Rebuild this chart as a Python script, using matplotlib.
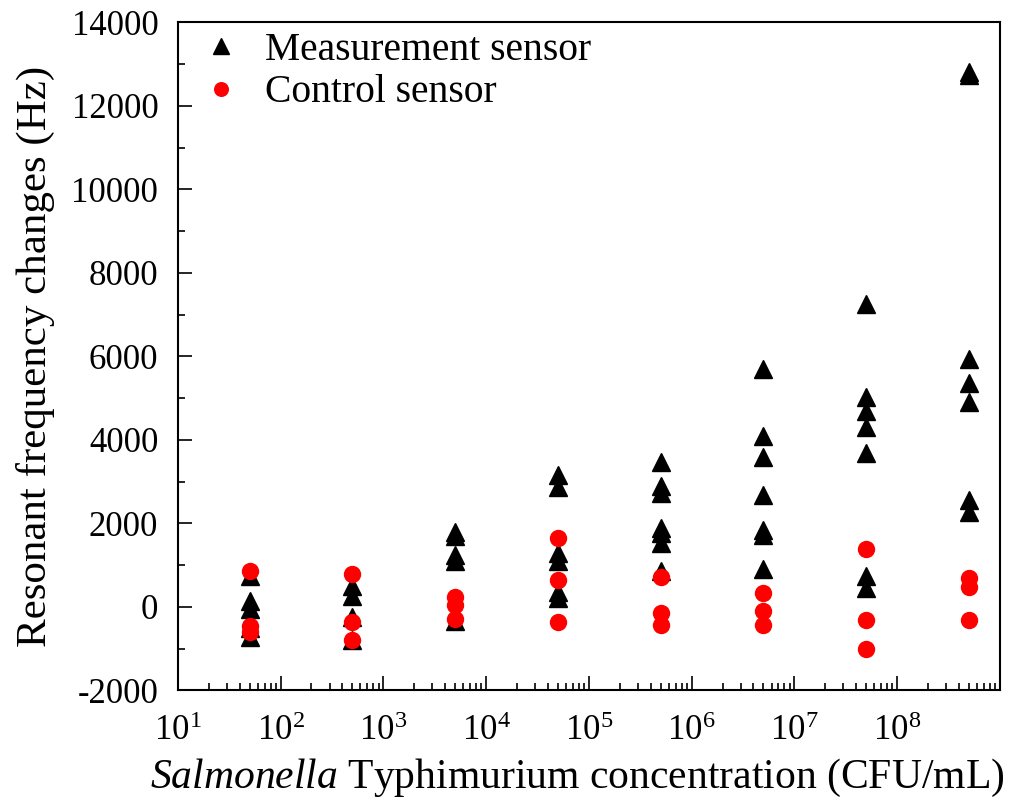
import numpy as np
import matplotlib
matplotlib.use('Agg')
import matplotlib.pyplot as plt
from matplotlib.ticker import LogLocator, MultipleLocator, NullFormatter

plt.rcParams['font.family'] = ['Liberation Serif', 'DejaVu Serif']
plt.rcParams['mathtext.fontset'] = 'custom'
plt.rcParams['mathtext.rm'] = 'Liberation Serif'
plt.rcParams['mathtext.it'] = 'Liberation Serif:italic'
plt.rcParams['axes.unicode_minus'] = False

# 浓度 (CFU/mL)
concentrations = [5e1, 5e2, 5e3, 5e4, 5e5, 5e6, 5e7, 5e8]

# 测量传感器频率变化 (Hz)
measurement = [
    [750, 150, -50, -500, -730],
    [500, 250, -250, -800],
    [1800, 1700, 1250, 1100, -350],
    [3150, 2860, 1300, 1110, 350, 200],
    [3460, 2890, 2720, 1900, 1760, 1520, 870],
    [5700, 4100, 3600, 2670, 1850, 1710, 900],
    [7250, 5020, 4700, 4300, 3680, 750, 450],
    [12800, 12740, 5930, 5350, 4900, 2550, 2270],
]

# 对照传感器频率变化 (Hz)
control = [
    [870, -450, -600],
    [780, -370, -800],
    [230, 40, -280],
    [1640, 635, -370],
    [710, -150, -440],
    [320, -90, -440],
    [1380, -320, -1000],
    [680, 470, -320],
]

mx = [c for c, vals in zip(concentrations, measurement) for _ in vals]
my = [v for vals in measurement for v in vals]
cx = [c for c, vals in zip(concentrations, control) for _ in vals]
cy = [v for vals in control for v in vals]

fig = plt.figure(figsize=(10.1, 7.99), dpi=100)
ax = fig.add_axes([0.176, 0.136, 0.814, 0.836])

ax.plot(mx, my, linestyle='none', marker='^', color='black', markersize=13,
        label='Measurement sensor')
ax.plot(cx, cy, linestyle='none', marker='o', color='red', markersize=11.5,
        label='Control sensor')

ax.set_xscale('log')
ax.set_xlim(10, 1e9)
ax.set_ylim(-2000, 14000)

ax.xaxis.set_minor_locator(LogLocator(base=10, subs=np.arange(2, 10), numticks=20))
ax.xaxis.set_minor_formatter(NullFormatter())
ax.set_xticks([10 ** k for k in range(1, 9)])
ax.set_xticklabels([r'$10^{%d}$' % k for k in range(1, 9)])

ax.yaxis.set_major_locator(MultipleLocator(2000))
ax.yaxis.set_minor_locator(MultipleLocator(1000))

ax.tick_params(which='both', direction='in', top=False, right=False,
               labelsize=25, width=1.2)
ax.tick_params(which='major', length=10)
ax.tick_params(which='minor', length=5)
ax.tick_params(axis='x', pad=18)
ax.tick_params(axis='y', pad=14)
for s in ax.spines.values():
    s.set_linewidth(1.5)

ax.set_ylabel('Resonant frequency changes (Hz)', fontsize=31, labelpad=12)
ax.set_xlabel(r'$\mathit{Salmonella}$ Typhimurium concentration (CFU/mL)',
              fontsize=30, labelpad=4)
ax.xaxis.set_label_coords(0.486, -0.1)
ax.xaxis.label.set_va('top')

ax.legend(loc='upper left', frameon=False, fontsize=28.5, handletextpad=0.4,
          borderaxespad=0.0, labelspacing=0.15, markerscale=0.85,
          handlelength=1.4, bbox_to_anchor=(0.0, 1.01))

plt.savefig('out.png', dpi=100)
